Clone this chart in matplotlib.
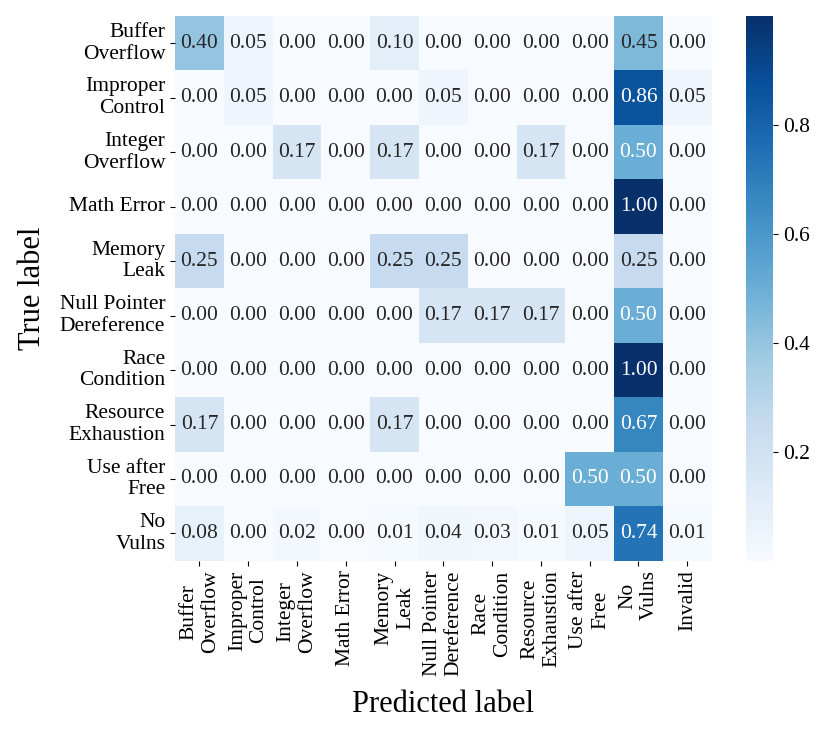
import numpy as np
import matplotlib
matplotlib.use("Agg")
import matplotlib.pyplot as plt
import seaborn as sns

# Class names (true rows / predicted columns)
true_labels = ["Buffer\nOverflow", "Improper\nControl", "Integer\nOverflow", "Math Error",
               "Memory\nLeak", "Null Pointer\nDereference", "Race\nCondition",
               "Resource\nExhaustion", "Use after\nFree", "No\nVulns"]
pred_labels = true_labels + ["Invalid"]

# Normalized confusion matrix values, one list per true class
buffer_overflow = [0.40, 0.05, 0.00, 0.00, 0.10, 0.00, 0.00, 0.00, 0.00, 0.45, 0.00]
improper_control = [0.00, 0.05, 0.00, 0.00, 0.00, 0.05, 0.00, 0.00, 0.00, 0.86, 0.05]
integer_overflow = [0.00, 0.00, 0.17, 0.00, 0.17, 0.00, 0.00, 0.17, 0.00, 0.50, 0.00]
math_error = [0.00, 0.00, 0.00, 0.00, 0.00, 0.00, 0.00, 0.00, 0.00, 1.00, 0.00]
memory_leak = [0.25, 0.00, 0.00, 0.00, 0.25, 0.25, 0.00, 0.00, 0.00, 0.25, 0.00]
null_pointer = [0.00, 0.00, 0.00, 0.00, 0.00, 0.17, 0.17, 0.17, 0.00, 0.50, 0.00]
race_condition = [0.00, 0.00, 0.00, 0.00, 0.00, 0.00, 0.00, 0.00, 0.00, 1.00, 0.00]
resource_exhaustion = [0.17, 0.00, 0.00, 0.00, 0.17, 0.00, 0.00, 0.00, 0.00, 0.67, 0.00]
use_after_free = [0.00, 0.00, 0.00, 0.00, 0.00, 0.00, 0.00, 0.00, 0.50, 0.50, 0.00]
no_vulns = [0.08, 0.00, 0.02, 0.00, 0.01, 0.04, 0.03, 0.01, 0.05, 0.74, 0.01]

cm = np.array([buffer_overflow, improper_control, integer_overflow, math_error,
               memory_leak, null_pointer, race_condition, resource_exhaustion,
               use_after_free, no_vulns])

plt.rcParams["font.family"] = ["Liberation Serif", "DejaVu Serif"]

fig = plt.figure(figsize=(8.31, 7.36), dpi=100)
ax = fig.add_axes([0.2106, 0.2382, 0.6458, 0.7401])
cax = fig.add_axes([0.8973, 0.2382, 0.0329, 0.7401])

sns.heatmap(cm, annot=True, fmt=".2f", cmap="Blues", vmin=0, vmax=1,
            xticklabels=pred_labels, yticklabels=true_labels,
            annot_kws={"size": 15.5}, ax=ax, cbar_ax=cax)

ax.tick_params(axis="both", labelsize=15.5)
plt.setp(ax.get_yticklabels(), rotation=0, ha="right", va="center")
plt.setp(ax.get_xticklabels(), rotation=90, ha="center", va="top")
ax.set_xlabel("Predicted label", fontsize=22, labelpad=10)
ax.set_ylabel("True label", fontsize=22, labelpad=9)

cax.set_yticks([0.2, 0.4, 0.6, 0.8])
cax.set_yticklabels(["0.2", "0.4", "0.6", "0.8"])
cax.tick_params(labelsize=15.5)

fig.savefig("out.png", dpi=100)
